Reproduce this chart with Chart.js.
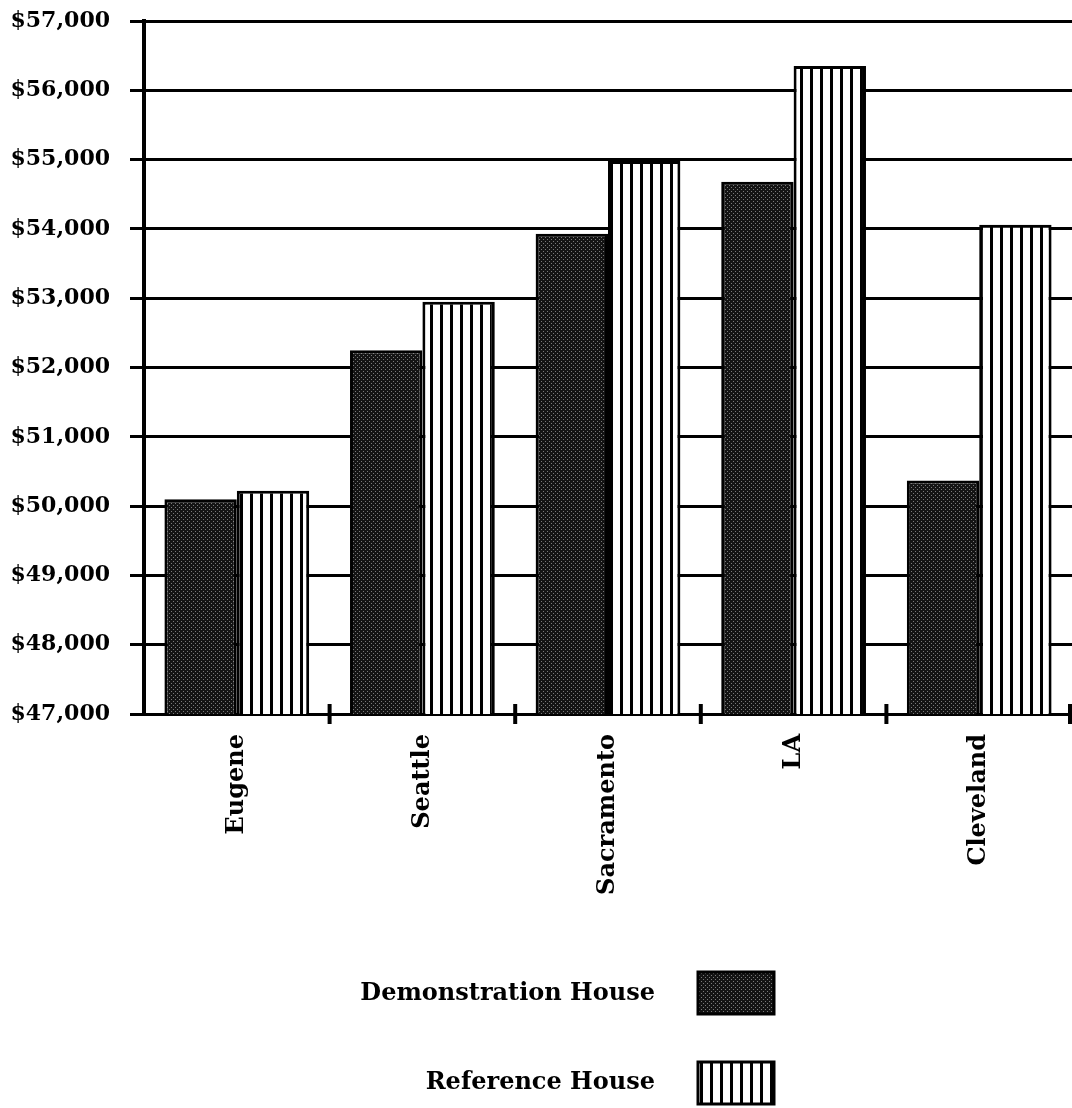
<!DOCTYPE html>
<html>
<head>
<meta charset="utf-8">
<script src="https://cdn.jsdelivr.net/npm/chart.js@4/dist/chart.umd.min.js"></script>
<style>
  html, body { margin: 0; padding: 0; background: #fff; }
  #wrap { width: 1072px; height: 1108px; }
</style>
</head>
<body>
<div id="wrap"><canvas id="houseChart"></canvas></div>
<script>
const cities = ['Eugene', 'Seattle', 'Sacramento', 'LA', 'Cleveland'];
const demoHouse = [50100, 52250, 53930, 54680, 50370];
const refHouse = [50220, 52950, 54980, 56350, 54060];
const seriesNames = ['Demonstration House', 'Reference House'];
const yMin = 47000;
const yMax = 57000;
const yStep = 1000;

const FONT = '"DejaVu Serif", "Liberation Serif", serif';

function stipple() {
    const c = document.createElement('canvas');
    c.width = 4; c.height = 4;
    const g = c.getContext('2d');
    g.fillStyle = '#141414';
    g.fillRect(0, 0, 4, 4);
    g.fillStyle = '#7a7a7a';
    g.fillRect(1, 1, 1, 1);
    g.fillRect(3, 3, 1, 1);
    return g.createPattern(c, 'repeat');
}

function stripes() {
    const c = document.createElement('canvas');
    c.width = 10; c.height = 10;
    const g = c.getContext('2d');
    g.fillStyle = '#fff';
    g.fillRect(0, 0, 10, 10);
    g.fillStyle = '#000';
    g.fillRect(0, 0, 3, 10);
    return g.createPattern(c, 'repeat');
}

// short tick marks crossing the x axis at category boundaries
const boundaryTicks = {
    id: 'boundaryTicks',
    afterDatasetsDraw(chart) {
        const { ctx, chartArea, scales } = chart;
        const x = scales.x;
        ctx.save();
        ctx.strokeStyle = '#000';
        ctx.lineWidth = 4;
        for (let i = 1; i <= cities.length; i++) {
            const px = Math.min(x.getPixelForValue(i - 0.5), chartArea.right - 2);
            ctx.beginPath();
            ctx.moveTo(px, chartArea.bottom - 10);
            ctx.lineTo(px, chartArea.bottom + 10);
            ctx.stroke();
        }
        ctx.restore();
    }
};

// legend: text on the left, swatch on the right, stacked
const sideLegend = {
    id: 'sideLegend',
    afterDraw(chart) {
        const ctx = chart.ctx;
        const rows = [{ y: 994, top: 972 }, { y: 1083, top: 1062 }];
        ctx.save();
        ctx.font = 'bold 24px ' + FONT;
        ctx.textAlign = 'right';
        ctx.textBaseline = 'middle';
        chart.data.datasets.forEach((ds, i) => {
            ctx.fillStyle = '#000';
            ctx.fillText(ds.label, 655, rows[i].y);
            ctx.fillStyle = ds.backgroundColor;
            ctx.fillRect(698, rows[i].top, 76, 42);
            ctx.strokeStyle = '#000';
            ctx.lineWidth = 3;
            ctx.strokeRect(698, rows[i].top, 76, 42);
        });
        ctx.restore();
    }
};

const ctx = document.getElementById('houseChart').getContext('2d');

new Chart(ctx, {
    type: 'bar',
    data: {
        labels: cities,
        datasets: [{
            label: seriesNames[0],
            data: demoHouse,
            backgroundColor: stipple(),
            borderColor: '#000',
            borderWidth: 3,
        }, {
            label: seriesNames[1],
            data: refHouse,
            backgroundColor: stripes(),
            borderColor: '#000',
            borderWidth: 3,
        }]
    },
    options: {
        responsive: true,
        maintainAspectRatio: false,
        animation: false,
        categoryPercentage: 0.78,
        barPercentage: 1,
        layout: { padding: { top: 21, right: 0, bottom: 0, left: 0 } },
        plugins: {
            legend: { display: false },
            tooltip: { enabled: false },
        },
        scales: {
            y: {
                min: yMin,
                max: yMax,
                afterFit: (scale) => {
                    scale.width = 144;
                    scale.paddingTop = 0;
                    scale.paddingBottom = 0;
                },
                ticks: {
                    stepSize: yStep,
                    padding: 20,
                    color: '#000',
                    font: { family: FONT, size: 22, weight: 'bold' },
                    callback: (value) => '$' + value.toLocaleString('en-US'),
                },
                grid: {
                    color: '#000',
                    lineWidth: 3,
                    tickLength: 14,
                    tickColor: '#000',
                    tickWidth: 3,
                },
                border: { color: '#000', width: 4 },
            },
            x: {
                afterFit: (scale) => { scale.height = 1108 - 714; },
                ticks: {
                    minRotation: 90,
                    maxRotation: 90,
                    padding: 12,
                    color: '#000',
                    font: { family: FONT, size: 24, weight: 'bold' },
                },
                grid: { display: false },
                border: { color: '#000', width: 3 },
            }
        }
    },
    plugins: [boundaryTicks, sideLegend]
});
</script>
</body>
</html>
